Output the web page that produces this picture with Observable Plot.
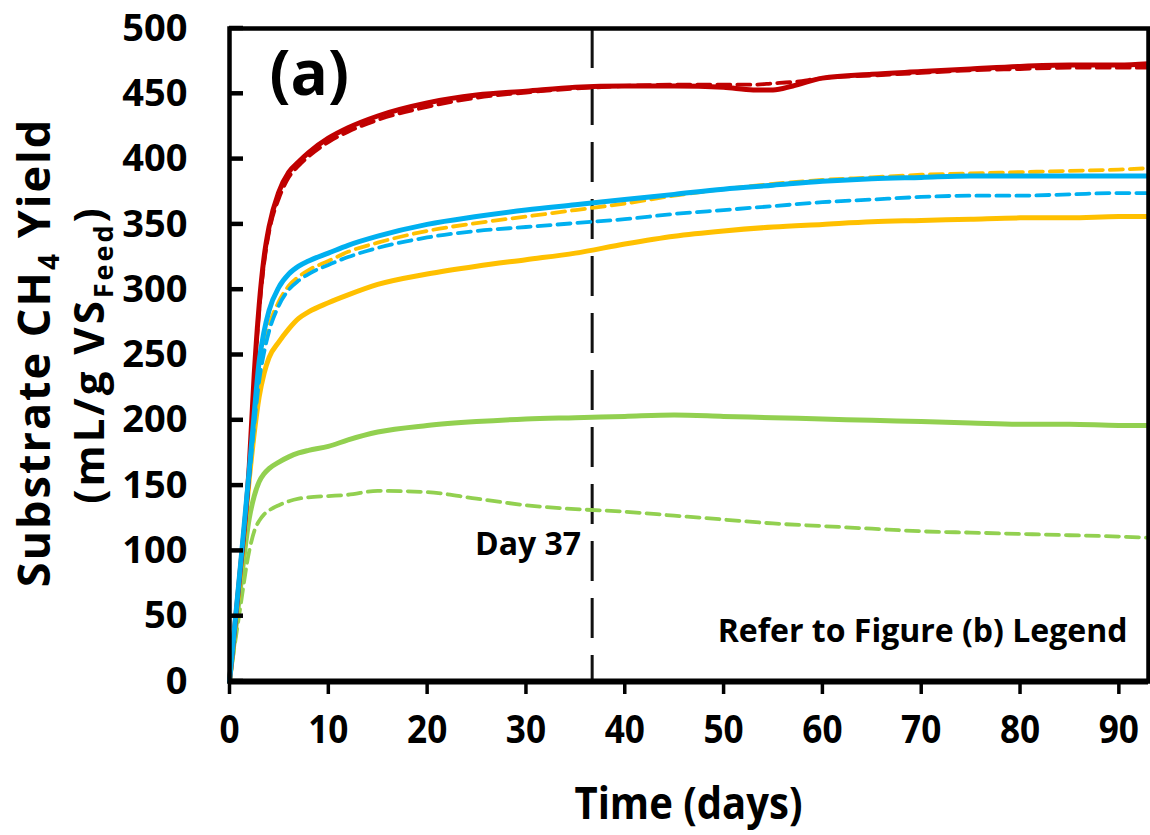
<!DOCTYPE html>
<html>
<head>
<meta charset="utf-8">
<script src="https://cdn.jsdelivr.net/npm/d3@7"></script>
<script src="https://cdn.jsdelivr.net/npm/@observablehq/plot@0.6"></script>
<style>
  html, body { margin: 0; padding: 0; background: #fff; }
  #chart { width: 1150px; height: 835px; }
  svg { font-family: "Open Sans", "Noto Sans", sans-serif; font-weight: 700; }
</style>
</head>
<body>
<div id="chart"></div>
<script>
// ---- data ----
const days = [0, 1, 2, 2.5, 3, 3.5, 4, 5, 6, 7, 8, 10, 12, 15, 20, 25, 30, 35, 40, 45, 50, 55, 60, 65, 70, 75, 80, 85, 90, 93];

const redDays = [0, 1, 2, 2.5, 3, 3.5, 4, 5, 6, 7, 8, 10, 12, 15, 20, 25, 30, 35, 40, 45, 50, 53, 55, 57, 60, 65, 70, 75, 80, 85, 90, 93];
const redSolid = [0, 78, 165, 235, 288, 325, 348, 375, 390, 398, 405, 416, 424, 433, 443, 449, 452, 455, 456, 456, 455, 453, 453, 456, 462, 465, 467, 469, 471, 472, 472, 473];
const redDashed = [0, 78, 163, 232, 284, 320, 344, 370, 386, 395, 402, 413, 421, 430, 440, 447, 451, 454, 456, 457, 457, 457, 458, 459, 462, 464, 466, 468, 469, 470, 470, 470];

const blueSolid   = [0, 80, 162, 205, 245, 268, 284, 302, 312, 318, 322, 328, 334, 341, 350, 356, 361, 365, 369, 373, 377, 380, 383, 385, 386, 387, 387, 387, 387, 387];
const blueDashed  = [0, 78, 156, 196, 230, 252, 268, 288, 300, 307, 312, 319, 325, 332, 340, 345, 348, 351, 354, 358, 361, 364, 367, 369, 371, 372, 372, 373, 374, 374];
const yellowDashed= [0, 78, 156, 197, 232, 255, 272, 291, 303, 310, 315, 322, 329, 336, 345, 351, 356, 361, 366, 372, 377, 381, 384, 386, 388, 389, 390, 391, 392, 393];
const yellowSolid = [0, 75, 155, 190, 218, 236, 248, 260, 270, 278, 283, 290, 296, 304, 312, 318, 323, 328, 335, 341, 345, 348, 350, 352, 353, 354, 355, 355, 356, 356];
const greenSolid  = [0, 65, 125, 142, 153, 159, 163, 168, 172, 175, 177, 180, 185, 191, 196, 199, 201, 202, 203, 204, 203, 202, 201, 200, 199, 198, 197, 197, 196, 196];
const greenDashed = [0, 52, 100, 115, 123, 128, 131, 135, 138, 140, 141, 142, 143, 146, 145, 140, 135, 132, 130, 127, 124, 121, 119, 117, 115, 114, 113, 112, 111, 110];

const xTicks = [0, 10, 20, 30, 40, 50, 60, 70, 80, 90];
const yTicks = [0, 50, 100, 150, 200, 250, 300, 350, 400, 450, 500];
const markerDay = 36.7;   // dashed marker line position as drawn ("Day 37")

const colors = { red: "#c00000", blue: "#00b0f0", yellow: "#ffc000", green: "#92d050" };

// ---- build tables ----
function table(xs, ys) { return xs.map((d, i) => ({ day: d, v: ys[i] })); }

const series = [
  { data: table(days, greenDashed), color: colors.green, dashed: true },
  { data: table(days, greenSolid), color: colors.green, dashed: false },
  { data: table(days, yellowDashed), color: colors.yellow, dashed: true },
  { data: table(days, yellowSolid), color: colors.yellow, dashed: false },
  { data: table(days, blueDashed), color: colors.blue, dashed: true },
  { data: table(redDays, redDashed), color: colors.red, dashed: true },
  { data: table(redDays, redSolid), color: colors.red, dashed: false },
  { data: table(days, blueSolid), color: colors.blue, dashed: false }
];

const lineMarks = series.map(s => Plot.line(s.data, {
  x: "day", y: "v", stroke: s.color,
  strokeWidth: s.dashed ? 3.8 : 5,
  strokeDasharray: s.dashed ? "13,7" : null,
  curve: "monotone-x"
}));

const plot = Plot.plot({
  width: 1150,
  height: 835,
  marginLeft: 229,
  marginRight: 2,
  marginTop: 28,
  marginBottom: 154,
  style: { fontFamily: "'Open Sans', 'Noto Sans', sans-serif", fontWeight: 700, background: "#fff", overflow: "visible" },
  x: { domain: [0, 93] },
  y: { domain: [0, 500] },
  marks: [
    Plot.ruleX([markerDay], { stroke: "#111", strokeWidth: 3, strokeDasharray: "40,17" }),
    ...lineMarks,
    Plot.frame({ stroke: "#000", strokeWidth: 4.5 }),
    Plot.ruleY([0], { stroke: "#000", strokeWidth: 6 }),
    // y axis labels (inward ticks are added below)
    Plot.axisY(yTicks, { tickSize: 0, tickPadding: 42, fontSize: 38, label: null }),
    // x axis: outward ticks + labels
    Plot.axisX(xTicks, { tickSize: 13, strokeWidth: 3.5, tickPadding: 20, fontSize: 40, label: null }),
    Plot.text(["(a)"], { ariaLabel: "panel", frameAnchor: "top-left", dx: 40, dy: 47, lineAnchor: "middle", fontSize: 62, fontWeight: 700, fill: "#000" }),
    Plot.text(["Day 37"], { ariaLabel: "daylabel", x: markerDay, frameAnchor: "bottom", dy: -127, dx: -11, textAnchor: "end", fontSize: 32, fontWeight: 700, fill: "#000" }),
    Plot.text(["Refer to Figure (b) Legend"], { ariaLabel: "note", frameAnchor: "bottom-right", dx: -21, dy: -40, textAnchor: "end", fontSize: 32, fontWeight: 700, fill: "#000" })
  ]
});

document.getElementById("chart").appendChild(plot);

const svg = d3.select(plot);
const yScale = plot.scale("y");
const xScale = plot.scale("x");

// inward y ticks, positioned with Plot's own y scale
const x0 = xScale.apply(0);
svg.append("g").attr("aria-label", "y-axis inward tick")
  .selectAll("line").data(yTicks).join("line")
  .attr("x1", x0).attr("x2", x0 + 14)
  .attr("y1", d => yScale.apply(d)).attr("y2", d => yScale.apply(d))
  .attr("stroke", "#000").attr("stroke-width", 4.5);

// condense some labels horizontally, like the reference typeface
function condense(sel, k) {
  svg.selectAll(sel).each(function () {
    const t = this.getAttribute("transform") || "";
    this.setAttribute("transform", t + ` scale(${k},1)`);
  });
}
condense('[aria-label="x-axis tick label"] text', 0.88);

// x-axis title
const xMid = (xScale.range[0] + xScale.range[1]) / 2;
svg.append("text")
  .attr("transform", `translate(${xMid},819) scale(0.89,1)`)
  .attr("text-anchor", "middle").attr("font-size", 45).attr("font-weight", 700).attr("fill", "#000")
  .attr("font-family", "'Open Sans', 'Noto Sans', sans-serif")
  .text("Time (days)");

// y-axis title (two rotated lines with subscripts)
const cy = 28 + (681 - 28) / 2;
const g = svg.append("g").attr("transform", "rotate(-90)")
  .attr("font-family", "'Open Sans', 'Noto Sans', sans-serif").attr("font-weight", 700).attr("fill", "#000");
const t1 = g.append("text").attr("x", -cy + 2).attr("y", 50).attr("text-anchor", "middle").attr("font-size", 45).attr("letter-spacing", 2);
t1.append("tspan").text("Substrate CH");
t1.append("tspan").attr("font-size", 28).attr("dy", 9).text("4");
t1.append("tspan").attr("dy", -9).text(" Yield");
const t2 = g.append("text").attr("x", -cy).attr("y", 104).attr("text-anchor", "middle").attr("font-size", 42).attr("letter-spacing", 3);
t2.append("tspan").text("(mL/g VS");
t2.append("tspan").attr("font-size", 27).attr("dy", 9).text("Feed");
t2.append("tspan").attr("dy", -9).text(")");
</script>
</body>
</html>
